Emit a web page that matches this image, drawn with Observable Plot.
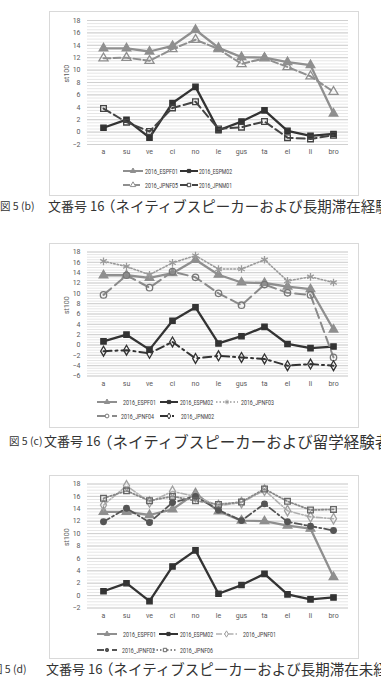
<!DOCTYPE html>
<html><head><meta charset="utf-8">
<script src="https://cdn.jsdelivr.net/npm/d3@7"></script>
<script src="https://cdn.jsdelivr.net/npm/@observablehq/plot@0.6"></script>
<style>
html,body{margin:0;padding:0;background:#fff;}
#page{position:relative;width:381px;height:684px;overflow:hidden;font-family:Roboto,"Liberation Sans",sans-serif;}
.box{position:absolute;left:49px;width:310px;border:1px solid #d9d9d9;box-sizing:border-box;}
.chart{position:absolute;left:49px;}
.cap{position:absolute;left:0;width:381px;height:20px;white-space:nowrap;font-family:"Noto Sans CJK JP",sans-serif;line-height:20px;color:#333;}
.cap span{position:absolute;top:0;}
.cap .lab{font-size:10.5px;}
.cap .pre{font-size:13px;}
#legend{position:absolute;left:0;top:0;}
</style></head><body><div id="page"></div>
<script>
// Words of sentence 16 (x categories)
const words = ["a","su","ve","ci","no","le","gus","ta","el","li","bro"];

// st100 values per speaker
const ESPF01 = [13.5,13.5,13.0,13.9,16.5,13.6,12.1,12.0,11.3,10.8,3.0];
const ESPM02 = [0.7,2.0,-0.9,4.7,7.3,0.3,1.7,3.5,0.2,-0.6,-0.3];
const JPNF05 = [11.9,12.0,11.5,13.4,14.9,13.4,11.0,11.9,10.5,9.0,6.5];
const JPNM01 = [3.8,1.6,0.1,3.9,4.9,0.5,0.8,1.7,-0.9,-1.1,-0.5];
const JPNF03 = [16.2,15.2,13.6,15.9,17.3,14.7,14.7,16.5,12.4,13.2,12.1];
const JPNF04 = [9.7,13.5,11.1,14.2,13.1,10.0,7.7,11.7,10.1,9.7,-2.4];
const JPNM02 = [-1.2,-1.0,-1.6,0.6,-2.6,-2.1,-2.4,-2.7,-4.0,-3.7,-4.0];
const JPNF01 = [14.6,17.7,15.1,16.8,16.0,14.5,15.0,17.0,13.7,12.7,12.4];
const JPNF02 = [11.9,14.1,11.8,15.0,16.0,13.8,12.1,14.8,11.9,11.2,10.5];
const JPNF06 = [15.7,16.9,15.3,16.0,15.3,14.7,15.1,17.2,15.2,13.8,13.9];

// y tick labels
const yTicksB = [-2,0,2,4,6,8,10,12,14,16,18];
const yTicksC = [-6,-4,-2,0,2,4,6,8,10,12,14,16,18];
const yTicksD = [-2,0,2,4,6,8,10,12,14,16,18];

// Captions: figure number, sentence number, description
const capLabels = ["図 5 (b)","図 5 (c)","図 5 (d)"];
const capPrefix = ["文番号 16","文番号 16","文番号 16"];
const capBody = [
  "（ネイティブスピーカーおよび長期滞在経験者）",
  "（ネイティブスピーカーおよび留学経験者）",
  "（ネイティブスピーカーおよび長期滞在未経験者）"
];

// Series names per panel
const seriesB = ["2016_ESPF01","2016_ESPM02","2016_JPNF05","2016_JPNM01"];
const seriesC = ["2016_ESPF01","2016_ESPM02","2016_JPNF03","2016_JPNF04","2016_JPNM02"];
const seriesD = ["2016_ESPF01","2016_ESPM02","2016_JPNF01","2016_JPNF02","2016_JPNF06"];

const values = {
  "2016_ESPF01": ESPF01, "2016_ESPM02": ESPM02, "2016_JPNF05": JPNF05,
  "2016_JPNM01": JPNM01, "2016_JPNF03": JPNF03, "2016_JPNF04": JPNF04,
  "2016_JPNM02": JPNM02, "2016_JPNF01": JPNF01, "2016_JPNF02": JPNF02,
  "2016_JPNF06": JPNF06
};

// Line and marker style of each speaker
const style = {
  "2016_ESPF01": {stroke:"#8f8f8f", w:2.3, dash:null, symbol:"triangle", fill:"#8f8f8f", mstroke:"#8f8f8f", r:3.2},
  "2016_ESPM02": {stroke:"#333", w:2.3, dash:null, symbol:"square", fill:"#333", mstroke:"#333", r:3},
  "2016_JPNF05": {stroke:"#8f8f8f", w:2, dash:"7,3", symbol:"triangle", fill:"none", mstroke:"#8f8f8f", r:3.4},
  "2016_JPNM01": {stroke:"#444", w:2, dash:"8,4", symbol:"square", fill:"none", mstroke:"#444", r:3.2},
  "2016_JPNF03": {stroke:"#9a9a9a", w:1.6, dash:"1.5,2", symbol:"asterisk", fill:"none", mstroke:"#9a9a9a", r:3.6},
  "2016_JPNF04": {stroke:"#8a8a8a", w:2, dash:"10,5", symbol:"circle", fill:"none", mstroke:"#777", r:3.2},
  "2016_JPNM02": {stroke:"#333", w:2, dash:"8,4,2,4", symbol:"diamond", fill:"none", mstroke:"#333", r:3},
  "2016_JPNF01": {stroke:"#b0b0b0", w:1.6, dash:"6,2,1.5,2", symbol:"diamond", fill:"none", mstroke:"#a0a0a0", r:3.2},
  "2016_JPNF02": {stroke:"#555", w:1.8, dash:"7,3,2,3", symbol:"circle", fill:"#555", mstroke:"#555", r:2.8},
  "2016_JPNF06": {stroke:"#888", w:1.8, dash:"1.5,2", symbol:"square", fill:"none", mstroke:"#666", r:3.2}
};

// Panel layout (page pixels)
const panels = [
  {series:seriesB, ticks:yTicksB, boxTop:11, boxBottom:196, yTop:20, yBottom:144,
   legendRows:[171,185], legend:[[123,143,145],[180,198,199],[123,143,145],[180,198,199]],
   cap:{y:196, labX:0, preX:48, bodyX:101, bodySize:14.5}},
  {series:seriesC, ticks:yTicksC, boxTop:243, boxBottom:428, yTop:251.5, yBottom:375.5,
   legendRows:[402,416], legend:[[97,117,123],[160,178,180],[216,238,241],[97,117,121],[160,178,181]],
   cap:{y:431, labX:9, preX:44, bodyX:97, bodySize:15.5}},
  {series:seriesD, ticks:yTicksD, boxTop:475, boxBottom:659, yTop:483.5, yBottom:607.5,
   legendRows:[634,650], legend:[[97,117,123],[159,178,180],[216,237,243],[97,117,122],[153,177,180]],
   cap:{y:659, labX:-8, preX:46, bodyX:99, bodySize:14.5}}
];
const rowOf = [[0,0,1,1],[0,0,0,1,1],[0,0,0,1,1]];

const page = document.getElementById("page");
const W = 310, mL = 38, mR = 11, mB = 18;

panels.forEach((p, pi) => {
  const box = document.createElement("div");
  box.className = "box";
  box.style.top = p.boxTop + "px";
  box.style.height = (p.boxBottom - p.boxTop) + "px";
  page.appendChild(box);

  const lo = p.ticks[0], hi = p.ticks[p.ticks.length - 1];
  const mT = p.yTop - p.boxTop;
  const H = (p.yBottom - p.boxTop) + mB;
  const minor = d3.range(lo, hi + 0.001, 0.5);

  const marks = [
    Plot.ruleY(minor, {stroke:"#e6e6e6", strokeWidth:1}),
    Plot.ruleY(p.ticks, {stroke:"#d0d0d0", strokeWidth:1}),
    Plot.axisY(p.ticks, {tickSize:0, tickPadding:7, fill:"#595959", label:null}),
    Plot.axisX({tickSize:0, tickPadding:5, fill:"#595959", label:null}),
    Plot.text(["st100"], {text:d => d, frameAnchor:"left", rotate:-90, dx:-21, fill:"#595959"})
  ];
  p.series.forEach(name => {
    const s = style[name];
    const rows = words.map((w, i) => ({word:w, v:values[name][i]}));
    marks.push(Plot.line(rows, {x:"word", y:"v", stroke:s.stroke, strokeWidth:s.w,
      strokeDasharray:s.dash || undefined, strokeLinejoin:"round"}));
    marks.push(Plot.dot(rows, {x:"word", y:"v", symbol:s.symbol, r:s.r,
      fill:s.fill, stroke:s.mstroke, strokeWidth:1.3}));
  });

  const svg = Plot.plot({
    width:W, height:H,
    marginLeft:mL, marginRight:mR, marginTop:mT, marginBottom:mB,
    style:{fontSize:"7px", fontFamily:"Roboto, 'Liberation Sans', sans-serif", background:"transparent", overflow:"visible"},
    x:{type:"point", domain:words, padding:0.5},
    y:{domain:[lo, hi]},
    marks
  });
  const holder = document.createElement("div");
  holder.className = "chart";
  holder.style.top = p.boxTop + "px";
  holder.appendChild(svg);
  page.appendChild(holder);

  // caption below the panel
  const cap = document.createElement("div");
  cap.className = "cap";
  cap.style.top = p.cap.y + "px";
  [["lab", capLabels[pi], p.cap.labX, null], ["pre", capPrefix[pi], p.cap.preX, null],
   ["body", capBody[pi], p.cap.bodyX, p.cap.bodySize]]
    .forEach(([cls, t, x, fs]) => {
      const sp = document.createElement("span");
      sp.className = cls; sp.textContent = t; sp.style.left = x + "px";
      if (fs) sp.style.fontSize = fs + "px";
      cap.appendChild(sp);
    });
  page.appendChild(cap);
});

// Legends
const symbols = {triangle:d3.symbolTriangle, square:d3.symbolSquare, diamond:d3.symbolDiamond,
  circle:d3.symbolCircle, asterisk:d3.symbolAsterisk};
const leg = d3.select(page).append("svg").attr("id","legend").attr("width",381).attr("height",684);
panels.forEach((p, pi) => {
  p.series.forEach((name, k) => {
    const s = style[name];
    const [x1, x2, tx] = p.legend[k];
    const y = p.legendRows[rowOf[pi][k]];
    leg.append("line").attr("x1",x1).attr("x2",x2).attr("y1",y).attr("y2",y)
      .attr("stroke",s.stroke).attr("stroke-width",Math.min(s.w, 2))
      .attr("stroke-dasharray", s.dash ? s.dash : null);
    leg.append("path").attr("transform",`translate(${(x1+x2)/2},${y})`)
      .attr("d", d3.symbol(symbols[s.symbol], Math.PI * (s.r*0.6) ** 2)())
      .attr("fill", s.symbol === "asterisk" ? "none" : (s.fill === "none" ? "#fff" : s.fill))
      .attr("stroke", s.mstroke).attr("stroke-width",1);
    leg.append("text").attr("x",tx).attr("y",y).attr("dy","0.35em")
      .attr("font-size",7.5).attr("fill","#404040")
      .attr("font-family","Roboto, 'Liberation Sans', sans-serif")
      .attr("textLength",33).attr("lengthAdjust","spacingAndGlyphs")
      .text(name);
  });
});
</script>
</body></html>
